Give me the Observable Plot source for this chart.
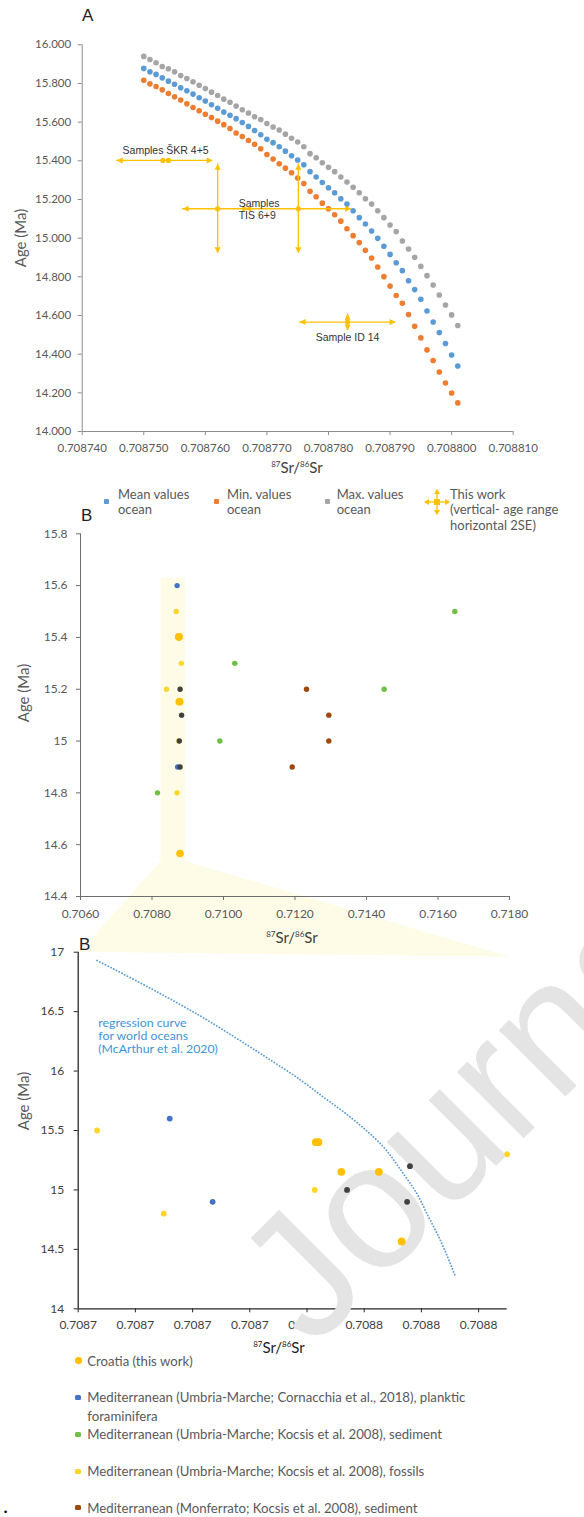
<!DOCTYPE html>
<html>
<head>
<meta charset="utf-8">
<script src="https://cdn.jsdelivr.net/npm/d3@7"></script>
<script src="https://cdn.jsdelivr.net/npm/@observablehq/plot@0.6"></script>
<style>
html,body{margin:0;padding:0;background:#fff;}
#root{position:relative;width:584px;height:1517px;overflow:hidden;background:#fff;}
#root > svg{position:absolute;left:0;}
.t{position:absolute;white-space:nowrap;line-height:1;}
</style>
</head>
<body>
<div id="root"></div>
<script>
// ================= Panel A data =================
const srA = [0.708750,0.708751,0.708752,0.708753,0.708754,0.708755,0.708756,0.708757,0.708758,0.708759,
  0.708760,0.708761,0.708762,0.708763,0.708764,0.708765,0.708766,0.708767,0.708768,0.708769,
  0.708770,0.708771,0.708772,0.708773,0.708774,0.708775,0.708776,0.708777,0.708778,0.708779,
  0.708780,0.708781,0.708782,0.708783,0.708784,0.708785,0.708786,0.708787,0.708788,0.708789,
  0.708790,0.708791,0.708792,0.708793,0.708794,0.708795,0.708796,0.708797,0.708798,0.708799,
  0.708800,0.708801];
const meanAge = [15.878,15.860,15.847,15.829,15.812,15.796,15.778,15.762,15.745,15.726,
  15.709,15.690,15.672,15.652,15.636,15.618,15.598,15.578,15.557,15.535,
  15.511,15.494,15.473,15.450,15.426,15.404,15.380,15.344,15.316,15.288,
  15.261,15.235,15.204,15.176,15.142,15.106,15.073,15.037,14.999,14.958,
  14.916,14.873,14.832,14.780,14.734,14.684,14.623,14.566,14.512,14.455,
  14.396,14.339];
const minAge = [15.817,15.798,15.784,15.767,15.748,15.731,15.714,15.695,15.676,15.659,
  15.641,15.624,15.605,15.587,15.567,15.544,15.526,15.505,15.486,15.462,
  15.433,15.409,15.385,15.362,15.338,15.311,15.283,15.242,15.214,15.181,
  15.152,15.121,15.088,15.049,15.013,14.977,14.937,14.897,14.851,14.801,
  14.752,14.703,14.663,14.605,14.544,14.484,14.422,14.367,14.308,14.251,
  14.199,14.148];
const maxAge = [15.940,15.924,15.907,15.888,15.876,15.860,15.841,15.826,15.809,15.791,
  15.774,15.755,15.738,15.719,15.703,15.683,15.664,15.647,15.628,15.614,
  15.593,15.575,15.559,15.538,15.517,15.497,15.473,15.437,15.416,15.390,
  15.367,15.344,15.316,15.290,15.263,15.235,15.204,15.176,15.142,15.106,
  15.068,15.034,14.985,14.944,14.901,14.854,14.806,14.758,14.706,14.654,
  14.603,14.548];
const xTicksA = [0.70874,0.70875,0.70876,0.70877,0.70878,0.70879,0.70880,0.70881];
const yTicksA = [14,14.2,14.4,14.6,14.8,15,15.2,15.4,15.6,15.8,16];

// this work (Croatia)
const workLabel = ["ŠKR 4","ŠKR 5","TIS 6","TIS 9","ID 14"];
const workSr  = [0.7087531,0.7087540,0.7087620,0.7087751,0.7087831];
const workAge = [15.402,15.402,15.152,15.152,14.566];
// horizontal 2SE bars
const errAge  = [15.402,15.152,15.152,14.566];
const errSrLo = [0.7087456,0.7087563,0.7087665,0.7087753];
const errSrHi = [0.7087612,0.7087670,0.7087837,0.7087909];
// vertical age ranges
const rangeSr = [0.7087620,0.7087751,0.7087831];
const rangeLo = [14.922,14.922,14.522];
const rangeHi = [15.385,15.385,14.609];

// ================= Panel B data =================
const xTicksBt = [0.706,0.708,0.710,0.712,0.714,0.716,0.718];
const yTicksBt = [14.4,14.6,14.8,15,15.2,15.4,15.6,15.8];
const cornSr = [0.708702,0.708717];
const cornAge = [15.6,14.9];
const kSedSr = [0.716470,0.710316,0.714494,0.709897,0.708154];
const kSedAge = [15.5,15.3,15.2,15.0,14.8];
const kFosSr = [0.7086766,0.7088200,0.708406,0.7087527,0.7086999];
const kFosAge = [15.5,15.3,15.2,15.0,14.8];
const monSedSr = [0.712322,0.712946,0.712946,0.711922];
const monSedAge = [15.2,15.1,15.0,14.9];
const monFosSr = [0.708786,0.708828,0.708764,0.708785];
const monFosAge = [15.2,15.1,15.0,14.9];
const bandSr = [0.708257,0.708937];
const bandAge = [14.535,15.627];

const xTicksBb = [0.70867,0.70869,0.70871,0.70873,0.70875,0.70877,0.70879,0.70881];
const yTicksBb = [14,14.5,15,15.5,16,16.5,17];
const curveSr = [0.7086766,0.7086871,0.7087011,0.7087128,0.7087244,0.7087361,0.7087477,0.7087547,
  0.7087652,0.7087763,0.7087833,0.7087885,0.7087920,0.7087967,0.7088019];
const curveAge = [16.930,16.800,16.620,16.462,16.290,16.110,15.925,15.800,
  15.611,15.373,15.150,14.966,14.798,14.573,14.270];

const legendB = [
  "Croatia (this work)",
  "Mediterranean (Umbria-Marche; Cornacchia et al., 2018), planktic<br>foraminifera",
  "Mediterranean (Umbria-Marche; Kocsis et al. 2008), sediment",
  "Mediterranean (Umbria-Marche; Kocsis et al. 2008), fossils",
  "Mediterranean (Monferrato; Kocsis et al. 2008), sediment"
];

// ================= styling =================
const C = {
  mean:"#5b9bd5", min:"#ed7d31", max:"#a5a5a5", work:"#ffc000",
  corn:"#4472c4", ksed:"#6fbf44", kfos:"#ffd52a", msed:"#9e480e", mfos:"#404040",
  band:"#fefce6", curve:"#5b9bd5"
};
const root = document.getElementById("root");
const FA = "Lato, sans-serif";
const FS = "'Liberation Sans', Arial, sans-serif";

function txt(html, x, y, o = {}) {
  const d = document.createElement("div");
  d.className = "t";
  d.innerHTML = html;
  d.style.left = x + "px";
  d.style.top = y + "px";
  d.style.fontFamily = o.font || FA;
  d.style.fontSize = (o.size || 13) + "px";
  d.style.color = o.color || "#595959";
  if (o.lh) d.style.lineHeight = o.lh;
  const ax = o.anchor === "middle" ? "-50%" : o.anchor === "end" ? "-100%" : "0";
  if (o.rotate) {
    d.style.transformOrigin = "50% 50%";
    d.style.transform = `translate(-50%,-50%) rotate(${o.rotate}deg)`;
  } else {
    d.style.transform = `translate(${ax},-50%)`;
  }
  if (o.z) d.style.zIndex = o.z;
  root.appendChild(d);
  return d;
}
function place(svg, top, z) {
  svg.style.position = "absolute";
  svg.style.left = "0px";
  svg.style.top = top + "px";
  svg.style.zIndex = z;
  root.appendChild(svg);
}

// arrow-head symbols (tip at the data point)
const tri = (dx1, dy1, dx2, dy2) => ({draw(ctx) { ctx.moveTo(0, 0); ctx.lineTo(dx1, dy1); ctx.lineTo(dx2, dy2); ctx.closePath(); }});
const arrowRight = tri(-6, -3, -6, 3);
const arrowLeft = tri(6, -3, 6, 3);
const arrowUp = tri(-3, 6, 3, 6);
const arrowDown = tri(-3, -6, 3, -6);

// ================= Panel A =================
const ocean = [];
srA.forEach((s, i) => ocean.push({sr: s, age: maxAge[i], k: "max"}));
srA.forEach((s, i) => ocean.push({sr: s, age: meanAge[i], k: "mean"}));
srA.forEach((s, i) => ocean.push({sr: s, age: minAge[i], k: "min"}));
const work = workSr.map((s, i) => ({sr: s, age: workAge[i], label: workLabel[i]}));
const errs = errAge.map((a, i) => ({age: a, lo: errSrLo[i], hi: errSrHi[i]}));
const ranges = rangeSr.map((s, i) => ({sr: s, lo: rangeLo[i], hi: rangeHi[i]}));
const gA = "#8c8c8c";

const chartA = Plot.plot({
  width: 584, height: 475,
  marginLeft: 81.7, marginRight: 71.3, marginTop: 44.3, marginBottom: 44,
  x: {domain: [xTicksA[0], xTicksA[xTicksA.length - 1]]},
  y: {domain: [yTicksA[0], yTicksA[yTicksA.length - 1]]},
  style: {background: "transparent", overflow: "visible"},
  marks: [
    Plot.axisX({ticks: xTicksA, tickFormat: d => d.toFixed(6), tickSize: 4, tickPadding: 8, stroke: gA, fill: "#595959", fontSize: 11.5, fontFamily: FA, label: null}),
    Plot.axisY({ticks: yTicksA, tickFormat: d => d.toFixed(3), tickSize: 4, tickPadding: 7, stroke: gA, fill: "#595959", fontSize: 11.5, fontFamily: FA, label: null}),
    Plot.ruleY([yTicksA[0]], {stroke: gA}),
    Plot.ruleX([xTicksA[0]], {stroke: gA}),
    Plot.dot(ocean, {x: "sr", y: "age", r: 2.8, fill: d => C[d.k], stroke: null}),
    Plot.ruleY(errs, {y: "age", x1: "lo", x2: "hi", stroke: C.work, strokeWidth: 1.3}),
    Plot.ruleX(ranges, {x: "sr", y1: "lo", y2: "hi", stroke: C.work, strokeWidth: 1.3}),
    Plot.dot(errs, {x: "lo", y: "age", symbol: arrowLeft, fill: C.work, stroke: null}),
    Plot.dot(errs, {x: "hi", y: "age", symbol: arrowRight, fill: C.work, stroke: null}),
    Plot.dot(ranges, {x: "sr", y: "hi", symbol: arrowUp, fill: C.work, stroke: null}),
    Plot.dot(ranges, {x: "sr", y: "lo", symbol: arrowDown, fill: C.work, stroke: null}),
    Plot.dot(work, {x: "sr", y: "age", r: 2.6, fill: C.work, stroke: null}),
    Plot.text([0], {x: () => (workSr[0] + workSr[1]) / 2, y: () => workAge[0], text: () => "Samples ŠKR 4+5", dy: -10, fontSize: 10.5, fontFamily: FS, fill: "#333"}),
    Plot.text([0], {x: () => workSr[2], y: () => workAge[2], text: () => "Samples\nTIS 6+9", dx: 21, textAnchor: "start", lineHeight: 1.15, fontSize: 10.5, fontFamily: FS, fill: "#333"}),
    Plot.text([0], {x: () => workSr[4], y: () => workAge[4], text: () => "Sample ID 14", dy: 16, fontSize: 10.5, fontFamily: FS, fill: "#333"})
  ]
});
place(chartA, 0, 2);
txt("A", 82, 15, {font: FS, size: 17, color: "#222"});
txt("Age (Ma)", 20, 238, {size: 15, rotate: -90});
const srTitle = "<span style='font-size:8px;vertical-align:6px'>87</span>Sr/<span style='font-size:8px;vertical-align:6px'>86</span>Sr";
txt(srTitle, 297, 467, {size: 15, anchor: "middle", color: "#404040"});

// legend A
function sq(x, y, c) {
  const d = document.createElement("div");
  d.style.cssText = `position:absolute;left:${x - 2.5}px;top:${y - 2.5}px;width:5px;height:5px;border-radius:1px;background:${c}`;
  root.appendChild(d);
}
sq(106, 501, C.mean); sq(216.7, 501, C.min); sq(327.7, 501, C.max);
txt("Mean values<br>ocean", 118, 502, {size: 13, lh: "15.3px"});
txt("Min. values<br>ocean", 227, 502, {size: 13, lh: "15.3px"});
txt("Max. values<br>ocean", 336.7, 502, {size: 13, lh: "15.3px"});
txt("This work<br>(vertical- age range<br>horizontal 2SE)", 450, 510, {size: 13, lh: "15.3px"});
{
  const s = d3.create("svg").attr("width", 30).attr("height", 30)
    .style("position", "absolute").style("left", (436.7 - 15) + "px").style("top", (501.7 - 15) + "px");
  const g = s.append("g").attr("transform", "translate(15,15)").attr("fill", C.work);
  s.append("line").attr("x1", 3).attr("x2", 27).attr("y1", 15).attr("y2", 15).attr("stroke", C.work).attr("stroke-width", 1.3);
  s.append("line").attr("x1", 15).attr("x2", 15).attr("y1", 3).attr("y2", 27).attr("stroke", C.work).attr("stroke-width", 1.3);
  g.append("path").attr("d", "M-13,0L-8,-3L-8,3Z");
  g.append("path").attr("d", "M13,0L8,-3L8,3Z");
  g.append("path").attr("d", "M0,-13L-3,-8L3,-8Z");
  g.append("path").attr("d", "M0,13L-3,8L3,8Z");
  g.append("rect").attr("x", -3).attr("y", -3).attr("width", 6).attr("height", 6);
  root.appendChild(s.node());
}

// ================= Panel B (top) =================
const pts = (sr, age, k) => sr.map((s, i) => ({sr: s, age: age[i], k}));
const croatia = pts(workSr, workAge, "work");
const corn = pts(cornSr, cornAge, "corn");
const ksed = pts(kSedSr, kSedAge, "ksed");
const kfos = pts(kFosSr, kFosAge, "kfos");
const msed = pts(monSedSr, monSedAge, "msed");
const mfos = pts(monFosSr, monFosAge, "mfos");
const gB = "#6e6e6e";
const topBt = 520;
const chartBt = Plot.plot({
  width: 584, height: 440,
  marginLeft: 80, marginRight: 75, marginTop: 13.3, marginBottom: 64,
  x: {domain: [xTicksBt[0], xTicksBt[xTicksBt.length - 1]]},
  y: {domain: [yTicksBt[0], yTicksBt[yTicksBt.length - 1]]},
  style: {background: "transparent", overflow: "visible"},
  marks: [
    Plot.rect([0], {x1: () => bandSr[0], x2: () => bandSr[1], y1: () => bandAge[0], y2: () => bandAge[1], fill: C.band}),
    Plot.axisX({ticks: xTicksBt, tickFormat: d => d.toFixed(4), tickSize: 4, tickPadding: 9, stroke: gB, fill: "#595959", fontSize: 12, fontFamily: FA, label: null}),
    Plot.axisY({ticks: yTicksBt, tickFormat: d => String(+d.toFixed(1)), tickSize: 4, tickPadding: 9, stroke: gB, fill: "#595959", fontSize: 12, fontFamily: FA, label: null}),
    Plot.ruleY([yTicksBt[0]], {stroke: gB}),
    Plot.ruleX([xTicksBt[0]], {stroke: gB}),
    Plot.dot(kfos, {x: "sr", y: "age", r: 2.7, fill: C.kfos}),
    Plot.dot(corn, {x: "sr", y: "age", r: 2.7, fill: C.corn}),
    Plot.dot(croatia, {x: "sr", y: "age", r: 3.8, fill: C.work}),
    Plot.dot(mfos, {x: "sr", y: "age", r: 2.7, fill: C.mfos}),
    Plot.dot(ksed, {x: "sr", y: "age", r: 2.7, fill: C.ksed}),
    Plot.dot(msed, {x: "sr", y: "age", r: 2.7, fill: C.msed})
  ]
});
place(chartBt, topBt, 2);
txt("B", 81, 515, {font: FS, size: 17, color: "#222", z: 3});
txt("Age (Ma)", 23.3, 693, {size: 15, rotate: -90});
txt(srTitle, 292, 937, {size: 15, anchor: "middle", color: "#404040", z: 3});

// ================= Panel B (bottom) =================
const inB = d => d.sr >= xTicksBb[0] && d.sr <= 0.70882;
const curve = curveSr.map((s, i) => ({sr: s, age: curveAge[i]}));
const gBb = "#262626";
const topBb = 940;
const frameBb = {
  width: 584, height: 400,
  marginLeft: 77.7, marginRight: 77.3, marginTop: 11.7, marginBottom: 31.7,
  style: {background: "transparent", overflow: "visible"}
};
const chartBb = Plot.plot({
  ...frameBb,
  x: {domain: [xTicksBb[0], 0.70882]},
  y: {domain: [yTicksBb[0], yTicksBb[yTicksBb.length - 1]]},
  marks: [
    Plot.axisX({ticks: xTicksBb, tickFormat: d => d.toFixed(4), tickSize: 4, tickPadding: 8, stroke: gBb, fill: "#404040", fontSize: 12, fontFamily: FA, label: null}),
    Plot.axisY({ticks: yTicksBb, tickFormat: d => String(d), tickSize: 4, tickPadding: 10, stroke: gBb, fill: "#404040", fontSize: 12, fontFamily: FA, label: null}),
    Plot.ruleY([yTicksBb[0]], {stroke: gBb, strokeWidth: 1.3}),
    Plot.ruleX([xTicksBb[0]], {stroke: gBb, strokeWidth: 1.3}),
    Plot.line(curve, {x: "sr", y: "age", curve: "monotone-y", stroke: C.curve, strokeWidth: 1.8, strokeDasharray: "0.1 3", strokeLinecap: "round"})
  ]
});
place(chartBb, topBb, 2);
// data points of the lower panel (drawn above the watermark layer)
const chartBbDots = Plot.plot({
  ...frameBb,
  x: {domain: [xTicksBb[0], 0.70882], axis: null},
  y: {domain: [yTicksBb[0], yTicksBb[yTicksBb.length - 1]], axis: null},
  marks: [
    Plot.dot(kfos.filter(inB), {x: "sr", y: "age", r: 2.9, fill: C.kfos}),
    Plot.dot(corn.filter(inB), {x: "sr", y: "age", r: 2.9, fill: C.corn}),
    Plot.dot(croatia.filter(inB), {x: "sr", y: "age", r: 3.9, fill: C.work}),
    Plot.dot(mfos.filter(inB), {x: "sr", y: "age", r: 2.9, fill: C.mfos}),
    Plot.dot(ksed.filter(inB), {x: "sr", y: "age", r: 2.9, fill: C.ksed}),
    Plot.dot(msed.filter(inB), {x: "sr", y: "age", r: 2.9, fill: C.msed})
  ]
});
place(chartBbDots, topBb, 6);
txt("B", 79, 943.5, {font: FS, size: 17, color: "#222", z: 3});
txt("Age (Ma)", 23.3, 1101, {size: 15, rotate: -90});
txt(srTitle, 279, 1347, {size: 15, anchor: "middle", color: "#222", z: 6});
txt("regression curve<br>for world oceans<br>(McArthur et al. 2020)", 98.3, 1036, {size: 12.3, color: "#3f94d6", lh: "12.8px"});

// ================= fan connecting the highlighted band =================
{
  const xt = chartBt.scale("x"), yt = chartBt.scale("y");
  const xb = chartBb.scale("x"), yb = chartBb.scale("y");
  const p = [
    [xt.apply(bandSr[0]), yt.apply(bandAge[0]) + topBt],
    [xt.apply(bandSr[1]), yt.apply(bandAge[0]) + topBt],
    [xb.apply(0.70882) + 3, yb.apply(yTicksBb[yTicksBb.length - 1]) + topBb + 5],
    [xb.apply(xTicksBb[0]) + 2, yb.apply(yTicksBb[yTicksBb.length - 1]) + topBb]
  ];
  const s = d3.create("svg").attr("width", 584).attr("height", 1517);
  s.append("path").attr("d", "M" + p.join("L") + "Z").attr("fill", C.band);
  place(s.node(), 0, 1);
}

// ================= legend B =================
const legendColor = [C.work, C.corn, C.ksed, C.kfos, C.msed];
const legendY = [1360.7, 1397.3, 1434.3, 1471, 1507.7];
legendB.forEach((t, i) => {
  const y = legendY[i];
  const m = document.createElement("div");
  if (i === 0) m.style.cssText = `position:absolute;left:${78.3 - 3.3}px;top:${y - 3.3}px;width:6.6px;height:6.6px;border-radius:50%;background:${legendColor[i]}`;
  else m.style.cssText = `position:absolute;left:${78.3 - 3}px;top:${y - 2.5}px;width:6px;height:5px;border-radius:1.5px;background:${legendColor[i]}`;
  root.appendChild(m);
  const d = txt(t, 87.3, y, {size: 13.2, lh: "18.7px"});
  d.style.transform = "translate(0,-9.35px)";
});
txt("•", 4, 1512, {font: FS, size: 9, color: "#000"});

// ================= watermark =================
{
  const s = d3.create("svg").attr("width", 584).attr("height", 1517).style("pointer-events", "none");
  s.append("text").attr("x", 312).attr("y", 1350).attr("transform", "rotate(-45 312 1350)")
    .attr("font-family", "Liberation Sans, Arial, sans-serif").attr("font-size", 178)
    .attr("fill", "#e4e4e4").text("Journal Pre-proof");
  place(s.node(), 0, 5);
}
</script>
</body>
</html>
